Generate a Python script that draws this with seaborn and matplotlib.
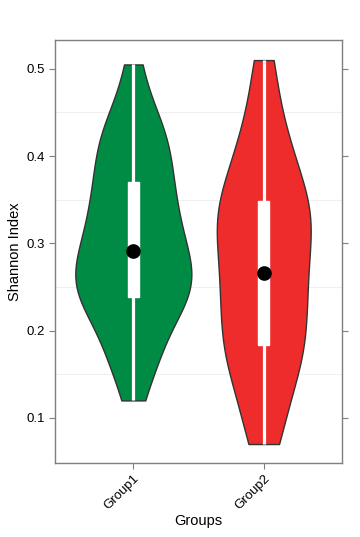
import numpy as np
import pandas as pd
import seaborn as sns
import matplotlib
matplotlib.use("Agg")
import matplotlib.pyplot as plt

# Shannon index per sample (33 samples in each group)
groups = ["Group1", "Group2"]
group1_values = [0.120, 0.158, 0.169, 0.180, 0.195, 0.218, 0.231, 0.235,
                 0.238, 0.243, 0.248, 0.255, 0.261, 0.270, 0.279, 0.286,
                 0.291, 0.300, 0.310, 0.320, 0.331, 0.341, 0.350, 0.359,
                 0.370, 0.384, 0.397, 0.407, 0.418, 0.427, 0.442, 0.459,
                 0.505]
group2_values = [0.070, 0.083, 0.105, 0.130, 0.150, 0.164, 0.173, 0.178,
                 0.183, 0.195, 0.212, 0.227, 0.239, 0.248, 0.255, 0.261,
                 0.266, 0.294, 0.308, 0.315, 0.320, 0.326, 0.333, 0.341,
                 0.348, 0.360, 0.375, 0.391, 0.407, 0.421, 0.436, 0.483,
                 0.510]
group_colors = ["#008B45", "#EE2C2C"]
violin_widths = [0.89, 0.72]
y_ticks = [0.1, 0.2, 0.3, 0.4, 0.5]

df = pd.DataFrame({
    "Groups": [groups[0]] * len(group1_values) + [groups[1]] * len(group2_values),
    "Shannon": group1_values + group2_values,
})

sns.set_theme(style="white")
plt.rcParams["font.family"] = ["Liberation Sans", "DejaVu Sans"]

fig = plt.figure(figsize=(3.6, 5.37), dpi=100)
ax = fig.add_axes([0.153, 0.138, 0.797, 0.7875])

# minor grid lines sit between the labelled ticks
for y in [0.15, 0.25, 0.35, 0.45]:
    ax.axhline(y, color="#f0f0f0", lw=0.8, zorder=0)

# one call per group so each violin gets its own maximum width
for grp, col, w in zip(groups, group_colors, violin_widths):
    sns.violinplot(data=df[df["Groups"] == grp], x="Groups", y="Shannon",
                   order=groups, color=col, cut=0, inner=None, width=w,
                   density_norm="width", bw_adjust=0.8, linewidth=1.0,
                   linecolor="#333333", saturation=1, ax=ax)

sns.boxplot(data=df, x="Groups", y="Shannon", order=groups, width=0.085,
            color="white", linecolor="white", linewidth=1, whis=(0, 100),
            showfliers=False, showcaps=False, saturation=1,
            whiskerprops={"linewidth": 2.3}, medianprops={"linewidth": 0},
            ax=ax)
sns.pointplot(data=df, x="Groups", y="Shannon", order=groups,
              estimator="median", errorbar=None, color="black",
              linestyle="none", markers="o", markersize=8.5, ax=ax)
ax.lines[-1].set_zorder(6)

ax.set_xlim(-0.6, 1.6)
ax.set_ylim(0.0484, 0.533)
ax.set_yticks(y_ticks)
ax.set_yticklabels([f"{t:.1f}" for t in y_ticks])
ax.set_xticks([0, 1])
ax.set_xticklabels(groups, rotation=45, ha="right", rotation_mode="anchor")

for side in ax.spines.values():
    side.set_color("#7f7f7f")
    side.set_linewidth(1.0)

ax.tick_params(axis="both", which="major", direction="out", length=4,
               width=0.8, color="#7f7f7f", labelsize=9.5, labelcolor="black",
               left=True, bottom=True, right=True)
ax.tick_params(axis="x", pad=3)
ax.set_xlabel("Groups", fontsize=10.5, color="black", labelpad=1)
ax.set_ylabel("Shannon Index", fontsize=10.5, color="black", labelpad=3)

fig.savefig("out.png", dpi=100, facecolor="white")
